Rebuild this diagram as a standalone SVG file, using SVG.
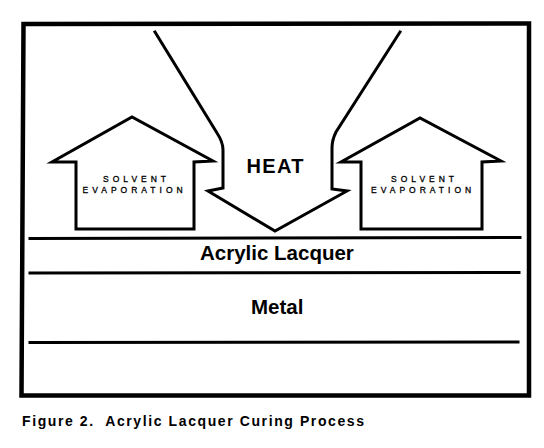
<svg xmlns="http://www.w3.org/2000/svg" width="544" height="448" viewBox="0 0 544 448">
<style>
.ln{fill:none;stroke:#000;stroke-linejoin:miter;stroke-linecap:square}
.big{font-family:"Liberation Sans",Arial,sans-serif;font-weight:bold;fill:#000}
.small{font-family:"Liberation Sans",Arial,sans-serif;font-size:8.5px;letter-spacing:4px;fill:#000;stroke:#000;stroke-width:0.3}
</style>
<rect x="0" y="0" width="544" height="448" fill="#fff"/>
<g id="frame">
<path class="ln" stroke-width="4.5" d="M23.5,24 L529,23.5 L529,395.5 L21.5,395.5 Z"/>
</g>
<g id="layers">
<line class="ln" stroke-width="3" x1="30" y1="238.5" x2="520" y2="237.5"/>
<line class="ln" stroke-width="3" x1="30" y1="273" x2="519" y2="272.5"/>
<line class="ln" stroke-width="3" x1="30" y1="342.5" x2="518" y2="342"/>
<text class="big" font-size="20.5" x="200" y="260">Acrylic Lacquer</text>
<text class="big" font-size="20.5" x="251" y="314">Metal</text>
</g>
<g id="heat">
<path class="ln" stroke-width="3" d="M155,32 L217,133 Q223,142 223,150 L223,188 L208,191 L275,231 L347,191 L332,189 L332,148 Q332,140 336,132 L400,32"/>
<text class="big" font-size="20" letter-spacing="1.3" x="246.5" y="172.5">HEAT</text>
</g>
<g id="evap-left">
<path class="ln" stroke-width="3" d="M76,229 L76,162 L52,162 L132,117 L213,161 L194,162 L194,229 Z"/>
<text class="small" x="103" y="181.5">SOLVENT</text>
<text class="small" x="82.5" y="192.5">EVAPORATION</text>
</g>
<g id="evap-right">
<path class="ln" stroke-width="3" d="M361,229 L361,162 L341,162 L420,118 L501,161 L482,162 L482,229 Z"/>
<text class="small" x="391" y="181.5">SOLVENT</text>
<text class="small" x="371" y="192.5">EVAPORATION</text>
</g>
<g id="caption">
<text class="big" font-size="14" letter-spacing="1.6" x="22" y="426" xml:space="preserve">Figure 2.  Acrylic Lacquer Curing Process</text>
</g>
</svg>
